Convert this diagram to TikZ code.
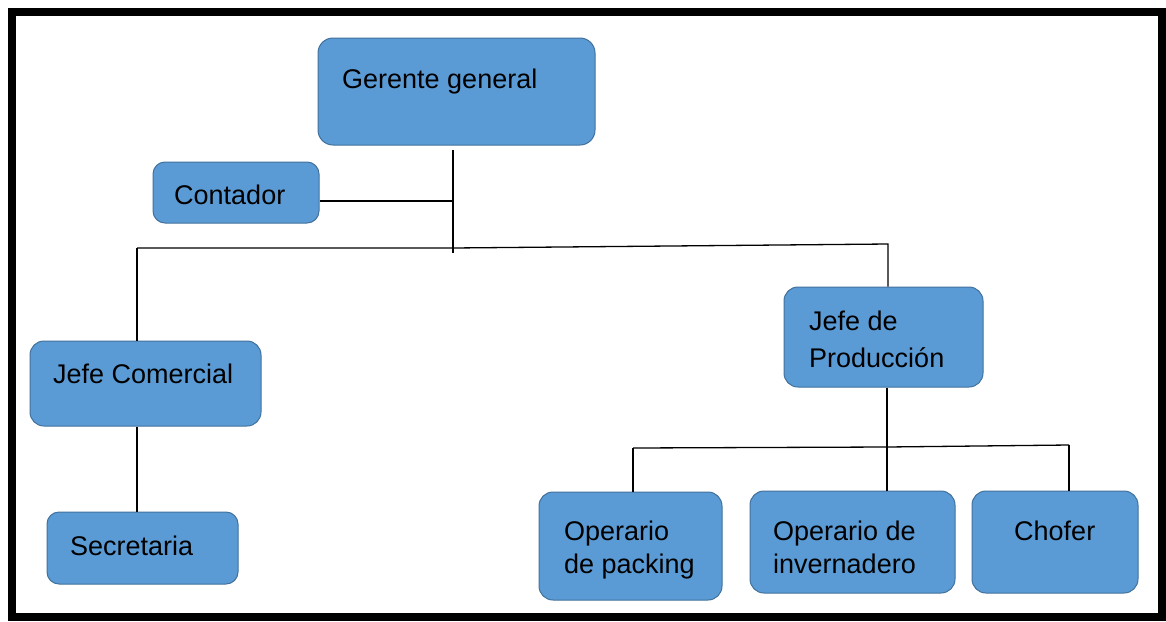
\documentclass[tikz,border=0pt]{standalone}
\usepackage{fontspec}
\setmainfont{Liberation Sans}
\definecolor{boxfill}{HTML}{5B9BD5}
\definecolor{boxline}{HTML}{41719C}
\begin{document}
\begin{tikzpicture}[x=1pt,y=-1pt,
  orgbox/.style={draw=boxline, line width=1pt, fill=boxfill, rounded corners=12pt, inner sep=0pt},
  lbl/.style={anchor=base west, inner sep=0pt, font=\fontsize{27}{33}\selectfont, text=black},
  link/.style={draw=black, line width=1.3pt}]
\useasboundingbox (0,0) rectangle (1166,621);
\fill[white] (0,0) rectangle (1166,621);
\draw[line width=8pt] (11.5,11.5) rectangle (1161.5,617);
% boxes
\node[orgbox, minimum width=277pt, minimum height=107pt, rounded corners=15pt] (gg) at (456.5,91.5) {};
\node[orgbox, minimum width=166pt, minimum height=61pt] (cont) at (236,192.5) {};
\node[orgbox, minimum width=231pt, minimum height=85pt, rounded corners=14pt] (jc) at (145.5,383.5) {};
\node[orgbox, minimum width=191pt, minimum height=72pt] (sec) at (142.5,548) {};
\node[orgbox, minimum width=199pt, minimum height=100pt, rounded corners=14pt] (jp) at (883.5,337) {};
\node[orgbox, minimum width=183pt, minimum height=108pt, rounded corners=14pt] (op1) at (630.5,546) {};
\node[orgbox, minimum width=205pt, minimum height=102pt, rounded corners=14pt] (op2) at (852.5,542) {};
\node[orgbox, minimum width=166pt, minimum height=102pt, rounded corners=14pt] (ch) at (1055,542) {};
% labels
\node[lbl] (ggt) at (342,88) {Gerente general};
\node[lbl] (contt) at (174,204) {Contador};
\node[lbl] (jct) at (53,383) {Jefe Comercial};
\node[lbl] (sect) at (70,555) {Secretaria};
\node[lbl] (jpt1) at (809,330) {Jefe de};
\node[lbl] (jpt2) at (809,367) {Producción};
\node[lbl] (op1t1) at (564,540) {Operario};
\node[lbl] (op1t2) at (564,573) {de packing};
\node[lbl] (op2t1) at (773,540) {Operario de};
\node[lbl] (op2t2) at (773,573) {invernadero};
\node[lbl] (cht) at (1014,540) {Chofer};
% junctions
\coordinate (gtop) at (453,150);
\coordinate (gbot) at (453,253);
\coordinate (gc) at (453,201);
\coordinate (hl) at (137,248);
\coordinate (hm) at (453,248);
\coordinate (hr) at (888,244);
\coordinate (pl) at (633,448);
\coordinate (pm) at (887,447);
\coordinate (pr) at (1069,445);
% connectors
\draw[link] (gtop) -- (gbot);
\draw[link] (cont.east |- gc) -- (gc);
\draw[link] (hl) -- (hm) -- (hr) -- (hr |- jp.north);
\draw[link] (hl) -- (hl |- jc.north);
\draw[link] (jc.south -| hl) -- (hl |- sec.north);
\draw[link] (jp.south -| pm) -- (pm |- op2.north);
\draw[link] (pl) -- (pm) -- (pr);
\draw[link] (pl) -- (pl |- op1.north);
\draw[link] (pr) -- (pr |- ch.north);
\end{tikzpicture}
\end{document}
